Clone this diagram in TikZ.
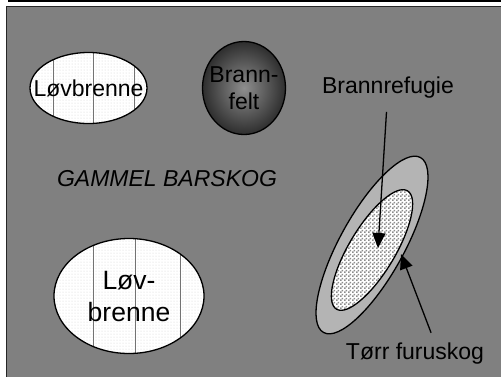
\documentclass[tikz,border=0pt]{standalone}
\usepackage{fontspec}
\setmainfont{Liberation Sans}
\usetikzlibrary{arrows.meta,patterns,patterns.meta}

\definecolor{barskog}{HTML}{808080}
\definecolor{furugray}{HTML}{B4B4B4}
\definecolor{brannmid}{HTML}{8E8E8E}
\definecolor{brannedge}{HTML}{2E2E2E}

\tikzdeclarepattern{
  name=finecheck,
  type=uncolored,
  bounding box={(0pt,0pt) and (4pt,4pt)},
  tile size={(4pt,4pt)},
  code={
    \fill (0pt,0pt) rectangle (2pt,2pt);
    \fill (2pt,2pt) rectangle (4pt,4pt);
  }
}

\tikzset{
  txt/.style={font=\fontsize{23}{27}\selectfont, align=center, inner sep=0pt},
  bigtxt/.style={font=\fontsize{26.5}{32}\selectfont, align=center, inner sep=0pt},
  lovfill/.style={preaction={fill=white}, pattern=dots, pattern color=black!18},
  rim/.style={draw=black, line width=1.3pt},
  stripe/.style={draw=black!55, line width=0.6pt},
  pointer/.style={-{Triangle[length=15pt,width=13pt]}, line width=1.3pt},
}

\begin{document}
\begin{tikzpicture}[x=1pt,y=-1pt,line join=round]
  \useasboundingbox (0,0) rectangle (501,376);
  % frame
  \fill[barskog] (6.5,6.5) rectangle (503,378);
  \draw[black!85,line width=1.5pt] (6.5,378) -- (6.5,6.5) -- (503,6.5);
  \draw[line width=1.4pt] (8,0.8) -- (501,0.8);

  % small Løvbrenne
  \fill[lovfill] (88.5,88) ellipse [x radius=58.5, y radius=35.5];
  \begin{scope}
    \clip (88.5,88) ellipse [x radius=58.5, y radius=35.5];
    \foreach \sx in {53,93,134}
      \draw[stripe] (\sx,40) -- (\sx,140);
  \end{scope}
  \draw[rim] (88.5,88) ellipse [x radius=58.5, y radius=35.5];
  \node[txt] (lovsmall) at (88.5,88) {Løvbrenne};

  % big Løvbrenne
  \fill[lovfill] (129,296) ellipse [x radius=75, y radius=57.5];
  \begin{scope}
    \clip (129,296) ellipse [x radius=75, y radius=57.5];
    \foreach \sx in {93,135,180}
      \draw[stripe] (\sx,230) -- (\sx,360);
  \end{scope}
  \draw[rim] (129,296) ellipse [x radius=75, y radius=57.5];
  \node[bigtxt] (lovbig) at (129,296.5) {Løv-\\brenne};

  % Brannfelt
  \shadedraw[rim, inner color=brannmid, outer color=brannedge]
    (244,88) ellipse [x radius=41.5, y radius=46.5];
  \node[txt] (brannfelt) at (244,88) {Brann-\\felt};

  \node[txt, font=\fontsize{23}{27}\selectfont\itshape] (barskog) at (167,179) {GAMMEL BARSKOG};

  % furuskog
  \draw[rim, fill=furugray, rotate around={61:(372,245)}]
    (372,245) ellipse [x radius=100, y radius=32];
  \draw[rim, preaction={fill=white}, pattern=finecheck, pattern color=black!45,
    rotate around={59:(372,250)}]
    (372,250) ellipse [x radius=69, y radius=23];

  % labels
  \node[txt] (refugie) at (388,88) {Brannrefugie};
  \node[txt] (furu) at (415,354) {Tørr furuskog};
  \coordinate (refugietip) at (378,248);
  \coordinate (furutip) at (401,254);
  \draw[pointer, shorten <=13pt] (refugie) -- (refugietip);
  \draw[pointer, shorten <=11pt] ([xshift=20pt]furu.north) -- (furutip);
\end{tikzpicture}
\end{document}
